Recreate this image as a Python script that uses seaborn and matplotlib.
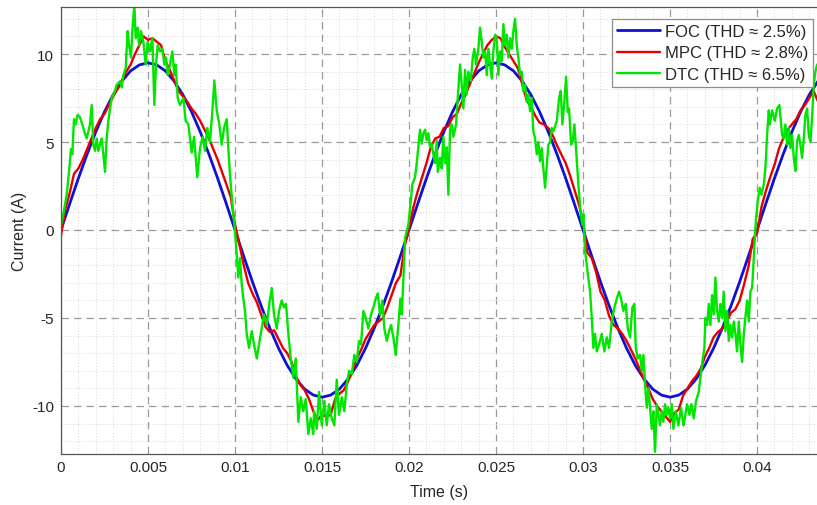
import numpy as np
import pandas as pd
import matplotlib
matplotlib.use("Agg")
import matplotlib.pyplot as plt
from matplotlib.ticker import MultipleLocator, FuncFormatter
import seaborn as sns

# ---------------- data ----------------
# FOC: sampled every 0.5 ms
foc_t_ms = [i * 0.5 for i in range(88)]
foc_vals = ([0, 1.49, 2.94, 4.31, 5.58, 6.72, 7.69, 8.46, 9.04, 9.38,
             9.5, 9.38, 9.04, 8.46, 7.69, 6.72, 5.58, 4.31, 2.94, 1.49,
             0, -1.49, -2.94, -4.31, -5.58, -6.72, -7.69, -8.46, -9.04, -9.38,
             -9.5, -9.38, -9.04, -8.46, -7.69, -6.72, -5.58, -4.31, -2.94, -1.49,
             0, 1.49, 2.94, 4.31, 5.58, 6.72, 7.69, 8.46, 9.04, 9.38,
             9.5, 9.38, 9.04, 8.46, 7.69, 6.72, 5.58, 4.31, 2.94, 1.49,
             0, -1.49, -2.94, -4.31, -5.58, -6.72, -7.69, -8.46, -9.04, -9.38,
             -9.5, -9.38, -9.04, -8.46, -7.69, -6.72, -5.58, -4.31, -2.94, -1.49,
             0, 1.49, 2.94, 4.31, 5.58, 6.72, 7.69, 8.46])

# MPC: sampled every 0.25 ms
mpc_t_ms = [i * 0.25 for i in range(175)]
mpc_vals = [-0.3, 1.2, 2.1, 3.2, 3.5, 4.0, 4.6, 5.2, 5.8, 6.3,
            6.6, 7.1, 7.6, 8.0, 8.5, 9.0, 9.4, 10.0, 10.5, 11.0,
            10.8, 10.9, 10.7, 10.5, 9.6, 9.1, 8.5, 7.9, 7.6, 7.3,
            6.9, 6.6, 6.2, 5.7, 5.2, 4.6, 4.0, 3.3, 2.6, 1.9,
            0.3, -0.8, -2.0, -3.0, -3.6, -4.1, -4.8, -5.5, -5.8, -5.7,
            -6.2, -6.7, -7.0, -7.5, -8.3, -8.8, -9.1, -9.6, -10.3, -10.8,
            -10.5, -10.6, -10.5, -9.6, -9.3, -9.1, -8.6, -8.0, -7.3, -6.8,
            -6.2, -5.8, -5.4, -5.2, -5.0, -4.4, -3.7, -3.0, -2.6, -0.9,
            0.1, 1.3, 2.2, 3.0, 3.8, 4.7, 5.2, 5.3, 5.8, 5.9,
            6.4, 6.6, 7.2, 7.7, 8.3, 8.9, 9.5, 10.0, 10.5, 10.8,
            11.0, 10.9, 10.4, 10.0, 9.6, 9.2, 8.3, 7.4, 7.0, 6.5,
            6.1, 6.0, 5.8, 5.4, 4.8, 4.3, 3.8, 3.1, 2.3, 1.5,
            0.5, -1.3, -1.6, -2.4, -3.5, -4.0, -4.9, -5.4, -5.6, -5.9,
            -6.3, -6.8, -7.3, -7.9, -8.5, -9.0, -9.6, -10.0, -10.3, -10.6,
            -10.9, -10.4, -10.2, -9.4, -9.0, -8.6, -8.3, -7.9, -7.2, -6.7,
            -6.1, -5.8, -5.6, -5.2, -4.7, -4.5, -4.0, -3.1, -2.1, -0.5,
            -0.2, 1.3, 2.2, 3.0, 3.7, 4.6, 5.2, 5.7, 6.0, 6.3,
            6.8, 7.1, 7.5, 7.9, 7.3]

# DTC: irregular samples (ms, A)
dtc_t_ms = [0.000, 0.134, 0.326, 0.460, 0.575, 0.651, 0.747, 0.843, 0.958, 1.092,
            1.226, 1.341, 1.475, 1.571, 1.667, 1.762, 1.858, 1.954, 2.050, 2.146,
            2.241, 2.337, 2.433, 2.529, 2.625, 2.720, 2.816, 2.912, 3.008, 3.103,
            3.199, 3.391, 3.487, 3.582, 3.716, 3.831, 3.908, 4.023, 4.100, 4.215,
            4.291, 4.406, 4.483, 4.598, 4.732, 4.866, 4.981, 5.115, 5.249, 5.364,
            5.460, 5.556, 5.690, 5.824, 5.939, 6.034, 6.130, 6.264, 6.398, 6.513,
            6.590, 6.705, 6.839, 7.031, 7.165, 7.318,
            7.511, 7.644, 7.833, 7.989, 8.144, 8.276, 8.408, 8.563, 8.718, 8.810,
            8.948, 9.098, 9.236, 9.368, 9.523, 9.615, 9.713, 9.868, 10.000, 10.098,
            10.190, 10.287, 10.385, 10.477, 10.575, 10.672, 10.805, 10.960, 11.092, 11.247,
            11.379, 11.534, 11.667, 11.822, 11.971, 12.109, 12.241, 12.397, 12.529, 12.684,
            12.816, 12.931, 13.063, 13.201, 13.351, 13.489, 13.638, 13.776, 13.925, 14.063,
            14.213, 14.351, 14.500, 14.540, 14.695, 14.828, 14.983, 15.132, 15.270, 15.402,
            15.557, 15.707, 15.845, 15.977, 16.132, 16.282, 16.420, 16.552, 16.707, 16.856,
            16.994, 17.126, 17.241, 17.374, 17.511, 17.661, 17.816, 17.948, 18.086, 18.201,
            18.333, 18.466, 18.580, 18.718, 18.851, 18.966, 19.098, 19.236, 19.385, 19.500,
            19.580, 19.695, 19.770, 19.960, 20.115, 20.190, 20.345, 20.443, 20.534, 20.632,
            20.730, 20.822, 20.920, 21.017, 21.109, 21.207, 21.305, 21.397, 21.494, 21.592,
            21.649, 21.782, 21.879, 21.971, 22.069, 22.167, 22.259, 22.356, 22.454, 22.546,
            22.701, 22.799, 22.931, 23.029, 23.121, 23.218, 23.316, 23.408, 23.546, 23.661,
            23.753, 23.851, 23.983, 24.080, 24.178, 24.270, 24.368, 24.466, 24.557, 24.655,
            24.753, 24.845, 24.943, 25.040, 25.132, 25.230, 25.328, 25.420, 25.517, 25.615,
            25.707, 25.805, 25.902, 25.994, 26.092, 26.190, 26.282, 26.379, 26.477, 26.569,
            26.667, 26.764, 26.856, 26.954, 27.052, 27.144, 27.241, 27.339, 27.431, 27.529,
            27.626, 27.718, 27.816, 27.914, 28.006, 28.103, 28.201, 28.293, 28.489, 28.621,
            28.718, 28.810, 28.925, 29.023, 29.121, 29.195, 29.310, 29.408, 29.500, 29.580,
            29.730, 29.868, 29.960, 30.017, 30.115, 30.213, 30.305, 30.402, 30.500, 30.592,
            30.690, 30.787, 30.920, 31.075, 31.224, 31.362, 31.494, 31.649, 31.799, 31.937,
            32.069, 32.184, 32.316, 32.454, 32.569, 32.701, 32.833, 32.948, 33.029, 33.144,
            33.276, 33.374, 33.466, 33.563, 33.661, 33.753, 33.851, 33.948, 34.040, 34.138,
            34.236, 34.328, 34.425, 34.523, 34.615, 34.713, 34.810, 34.902, 35.000, 35.098,
            35.190, 35.328, 35.477, 35.632, 35.764, 35.845, 35.977, 36.109, 36.224, 36.362,
            36.494, 36.649, 36.741, 36.879, 36.971, 37.029, 37.126, 37.224, 37.316, 37.414,
            37.511, 37.603, 37.701, 37.799, 37.891, 37.989, 38.086, 38.178, 38.276, 38.374,
            38.466, 38.563, 38.661, 38.753, 38.851, 38.948, 39.040, 39.138, 39.236, 39.328,
            39.425, 39.523, 39.615, 39.713, 39.770, 39.868, 39.943, 40.057, 40.155, 40.247,
            40.385, 40.477, 40.575, 40.672, 40.730, 40.862, 41.017, 41.149, 41.282, 41.362,
            41.437, 41.534, 41.626, 41.724, 41.822, 41.914, 42.011, 42.109, 42.201, 42.299,
            42.397, 42.489, 42.586, 42.684, 42.776, 42.874, 42.971, 43.063, 43.161, 43.259,
            43.351, 43.448]
dtc_vals = [0.3, 0.9, 2.0, 3.3, 4.6, 4.3, 6.3, 6.0, 6.55, 6.4,
            6.0, 5.6, 5.2, 5.6, 6.0, 7.1, 4.85, 4.5, 5.2, 4.5,
            4.85, 5.2, 4.3, 3.3, 5.2, 6.2, 6.9, 7.5, 7.7, 7.9,
            8.25, 8.45, 8.1, 8.8, 9.2, 11.3, 10.5, 9.8, 11.3, 12.8,
            10.9, 11.5, 10.5, 11.3, 10.7, 9.4, 10.7, 10.15, 10.9, 7.1,
            9.4, 10.5, 10.15, 10.3, 9.4, 9.8, 8.8, 9.4, 10.15, 8.8,
            9.4, 7.5, 7.1, 7.5, 6.2, 6.0,
            4.4, 5.3, 3.0, 4.65, 5.3, 4.5, 5.8, 5.0, 7.05, 8.5,
            6.8, 6.0, 4.85, 5.8, 6.3, 4.65, 3.1, 1.25, -0.06, -1.4,
            -2.7, -1.6, -3.1, -3.9, -4.6, -5.9, -6.7, -5.75, -6.5, -7.3,
            -6.5, -5.6, -4.8, -5.4, -4.2, -3.3, -4.8, -5.6, -4.6, -4.0,
            -4.4, -4.2, -5.9, -7.3, -8.4, -7.3, -10.9, -9.5, -10.3, -9.6,
            -11.6, -10.7, -11.6, -10.3, -11.3, -9.2, -11.1, -9.7, -11.1, -9.9,
            -10.7, -11.1, -8.5, -10.5, -9.5, -10.3, -8.8, -8.0, -8.2, -7.1,
            -7.5, -6.3, -6.5, -4.6, -5.0, -5.6, -4.8, -4.4, -3.9, -3.6,
            -4.8, -4.0, -5.6, -6.3, -5.75, -5.4, -6.1, -7.1, -5.4, -3.9,
            -4.8, -2.35, -0.45, 0.3, 1.8, 2.6, 3.0, 3.8, 4.7, 5.7,
            4.9, 5.5, 5.7, 5.1, 5.5, 4.7, 4.9, 4.3, 3.8, 5.1,
            3.3, 4.1, 3.5, 5.3, 3.8, 4.7, 2.0, 5.7, 6.0, 5.3,
            6.0, 7.5, 9.4, 8.25, 6.9, 9.1, 7.7, 9.0, 8.45, 9.8,
            10.3, 9.4, 10.3, 11.5, 10.7, 9.8, 10.15, 8.8, 10.3, 9.4,
            8.6, 10.15, 11.1, 10.9, 8.8, 10.15, 9.6, 11.7, 10.5, 11.1,
            9.8, 10.9, 10.3, 11.3, 12.0, 10.5, 9.8, 8.8, 9.0, 7.9,
            8.25, 7.3, 7.7, 6.75, 7.5, 5.6, 5.2, 4.3, 5.0, 3.9,
            4.65, 3.5, 2.4, 3.7, 4.85, 5.0, 5.8, 5.6, 6.2, 7.5,
            7.9, 6.0, 7.3, 8.7, 6.7, 6.9, 4.85, 5.05, 6.0, 4.85,
            2.6, 0.9, 0.3, 0.9, -1.2, -1.97, -2.7, -3.5, -5.0, -6.7,
            -5.9, -6.9, -6.5, -5.9, -6.9, -6.1, -6.7, -5.2, -4.4, -3.9,
            -3.5, -3.9, -4.6, -4.2, -5.6, -6.1, -4.4, -4.2, -6.7, -7.3,
            -7.1, -8.0, -7.1, -8.8, -10.1, -9.0, -10.1, -11.3, -10.3, -12.6,
            -9.9, -10.5, -11.1, -10.3, -10.9, -9.9, -10.5, -10.1, -10.7, -9.9,
            -11.3, -10.3, -11.1, -10.1, -11.1, -10.7, -9.9, -10.5, -9.9, -10.7,
            -9.7, -9.2, -8.4, -7.3, -6.7, -5.0, -5.4, -4.2, -5.4, -3.7,
            -4.8, -2.7, -4.6, -5.2, -4.2, -5.0, -3.5, -5.75, -4.6, -6.3,
            -5.4, -6.1, -5.2, -5.9, -6.9, -5.2, -6.5, -7.5, -5.9, -5.0,
            -4.0, -5.2, -3.5, -3.3, -2.35, -0.45, 0.7, 1.8, 2.4, 2.0,
            2.6, 3.5, 5.4, 6.8, 6.0, 6.8, 6.2, 6.9, 7.1, 6.2,
            5.4, 5.2, 6.0, 4.85, 5.8, 4.65, 5.4, 4.1, 3.35, 5.05,
            5.4, 4.85, 4.1, 5.2, 6.55, 6.9, 5.4, 5.0, 6.4, 8.3,
            9.0, 9.4]

series_labels = ["FOC (THD \u2248 2.5%)", "MPC (THD \u2248 2.8%)", "DTC (THD \u2248 6.5%)"]
series_colors = ["#1010D2", "#E60000", "#00E600"]
x_ticks = [0, 0.005, 0.01, 0.015, 0.02, 0.025, 0.03, 0.035, 0.04]
y_ticks = [-10, -5, 0, 5, 10]

# ---------------- build frames ----------------
df_foc = pd.DataFrame({"t": np.array(foc_t_ms) / 1000.0, "i": foc_vals})
df_mpc = pd.DataFrame({"t": np.array(mpc_t_ms) / 1000.0, "i": mpc_vals})
df_dtc = pd.DataFrame({"t": np.array(dtc_t_ms) / 1000.0, "i": dtc_vals})

sns.set_style("white")
plt.rcParams["font.family"] = ["Liberation Sans", "DejaVu Sans"]
plt.rcParams["axes.unicode_minus"] = False

fig = plt.figure(figsize=(8.17, 5.06), dpi=100)
ax = fig.add_axes([61 / 817, 1 - 454.5 / 506, (818 - 61) / 817, (454.5 - 7.5) / 506])

for df, lab, col, lw in zip([df_foc, df_mpc, df_dtc], series_labels, series_colors,
                            [2.0, 1.7, 1.7]):
    sns.lineplot(data=df, x="t", y="i", ax=ax, color=col, linewidth=lw,
                 label=lab, estimator=None, sort=False)

ax.set_xlim(0, 0.0435)
ax.set_ylim(-12.7, 12.7)
ax.set_xticks(x_ticks)
ax.set_yticks(y_ticks)
ax.xaxis.set_major_formatter(FuncFormatter(lambda v, p: "%g" % v))
ax.yaxis.set_major_formatter(FuncFormatter(lambda v, p: "%g" % v))
ax.xaxis.set_minor_locator(MultipleLocator(0.001))
ax.yaxis.set_minor_locator(MultipleLocator(1))

ax.grid(which="major", color="#9a9a9a", linestyle=(0, (6, 4)), linewidth=0.9)
ax.grid(which="minor", color="#d8d8d8", linestyle=(0, (1, 2)), linewidth=0.7)
ax.set_axisbelow(True)

ax.tick_params(which="both", direction="in", colors="#444444", labelcolor="#262626",
               labelsize=11, top=False, right=False)
ax.tick_params(which="major", length=4)
ax.tick_params(axis="x", which="major", pad=5)
ax.tick_params(axis="y", which="major", pad=5)
ax.tick_params(which="minor", length=0)
for s in ax.spines.values():
    s.set_color("#555555")
    s.set_linewidth(0.9)

ax.set_xlabel("Time (s)", fontsize=11.5, color="#262626", labelpad=7)
ax.set_ylabel("Current (A)", fontsize=11.5, color="#262626", labelpad=4)

leg = ax.legend(loc="upper right", bbox_to_anchor=((813 - 61) / 757, (454.5 - 20) / 447),
                borderaxespad=0, fontsize=12, handlelength=2.6, handletextpad=0.25,
                labelspacing=0.38, borderpad=0.3, fancybox=False, framealpha=1,
                edgecolor="#8c8c8c")
leg.get_frame().set_linewidth(0.9)

fig.savefig("out.png", dpi=100)
